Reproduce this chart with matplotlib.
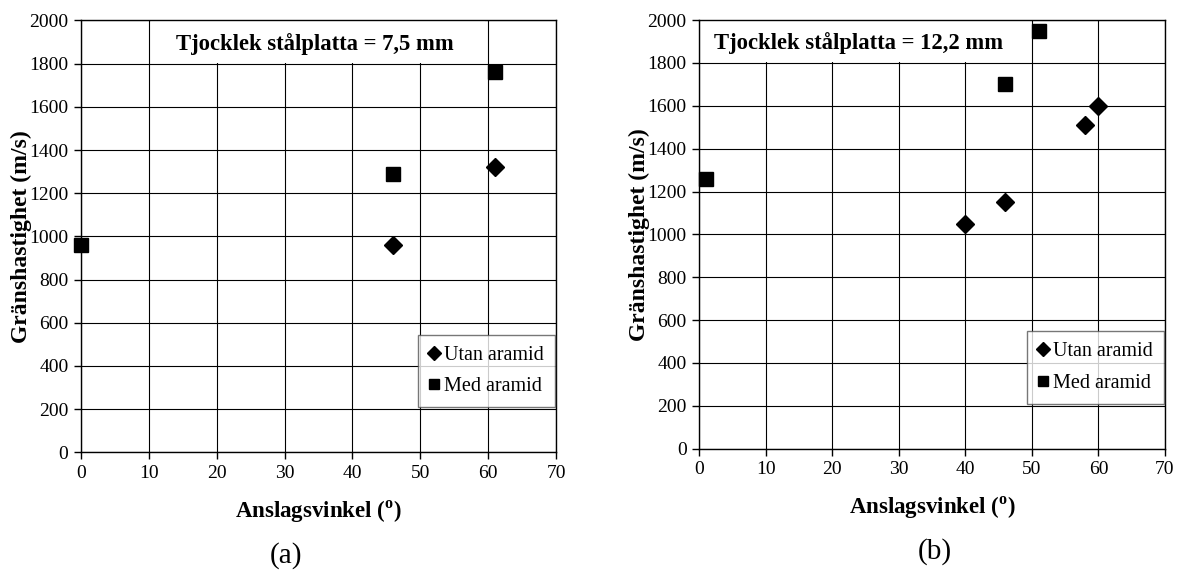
import matplotlib
matplotlib.use('Agg')
import matplotlib.pyplot as plt
from matplotlib.patches import Rectangle

plt.rcParams['font.family'] = ['Liberation Serif', 'DejaVu Serif']
plt.rcParams['mathtext.fontset'] = 'custom'
plt.rcParams['mathtext.rm'] = 'Liberation Serif'
plt.rcParams['mathtext.bf'] = 'Liberation Serif:bold'

# Data
# (a) 7,5 mm
a_utan_x = [46, 61]
a_utan_y = [960, 1320]
a_med_x = [0, 46, 61]
a_med_y = [960, 1290, 1760]
# (b) 12,2 mm
b_utan_x = [40, 46, 58, 60]
b_utan_y = [1050, 1150, 1510, 1600]
b_med_x = [1, 46, 51]
b_med_y = [1260, 1700, 1950]

xticks = [0, 10, 20, 30, 40, 50, 60, 70]
yticks = [0, 200, 400, 600, 800, 1000, 1200, 1400, 1600, 1800, 2000]

fig = plt.figure(figsize=(11.79, 5.82), dpi=100)
ax1 = fig.add_axes([0.0687, 0.2229, 0.4029, 0.7419])
ax2 = fig.add_axes([0.5929, 0.2290, 0.3952, 0.7366])


def draw(ax, ux, uy, mx, my, title, box, tx):
    ax.set_xlim(0, 70)
    ax.set_ylim(0, 2000)
    ax.set_xticks(xticks)
    ax.set_yticks(yticks)
    ax.grid(True, color='black', lw=0.8, zorder=0)
    ax.set_axisbelow(True)
    for s in ax.spines.values():
        s.set_color('black')
        s.set_linewidth(1.0)
    ax.tick_params(labelsize=14, length=5, width=1, color='black', pad=4)
    ax.plot(ux, uy, 'D', color='black', markersize=9.5, clip_on=False, zorder=5,
            label='Utan aramid')
    ax.plot(mx, my, 's', color='black', markersize=10, clip_on=False, zorder=5,
            label='Med aramid')
    # white box behind the title text
    ax.add_patch(Rectangle((box[0], 1804), box[1] - box[0], 192, facecolor='white',
                           edgecolor='none', zorder=1))
    ax.text(tx, 1893, title, ha='center', va='center', fontsize=16.3,
            fontweight='bold', zorder=3)
    ax.set_xlabel('Anslagsvinkel ($^{\\mathbf{o}}$)', fontsize=16.5, fontweight='bold',
                  labelpad=12)
    ax.set_ylabel('Gränshastighet (m/s)', fontsize=17, fontweight='bold', labelpad=-2)
    leg = ax.legend(loc='lower right', bbox_to_anchor=(0.997, 0.105), fontsize=14.5,
                    frameon=True, fancybox=False, handlelength=0.5,
                    handletextpad=0.25, labelspacing=0.6, borderpad=0.55,
                    markerscale=0.72, borderaxespad=0)
    leg.get_frame().set_edgecolor('#555555')
    leg.get_frame().set_linewidth(1.0)


draw(ax1, a_utan_x, a_utan_y, a_med_x, a_med_y,
     'Tjocklek stålplatta = 7,5 mm', (10.3, 59.6), 34.4)
draw(ax2, b_utan_x, b_utan_y, b_med_x, b_med_y,
     'Tjocklek stålplatta = 12,2 mm', (0.3, 49.7), 23.9)

fig.text(0.2426, 0.046, '(a)', ha='center', va='center', fontsize=21)
fig.text(0.793, 0.052, '(b)', ha='center', va='center', fontsize=21)

fig.savefig('out.png', dpi=100)
